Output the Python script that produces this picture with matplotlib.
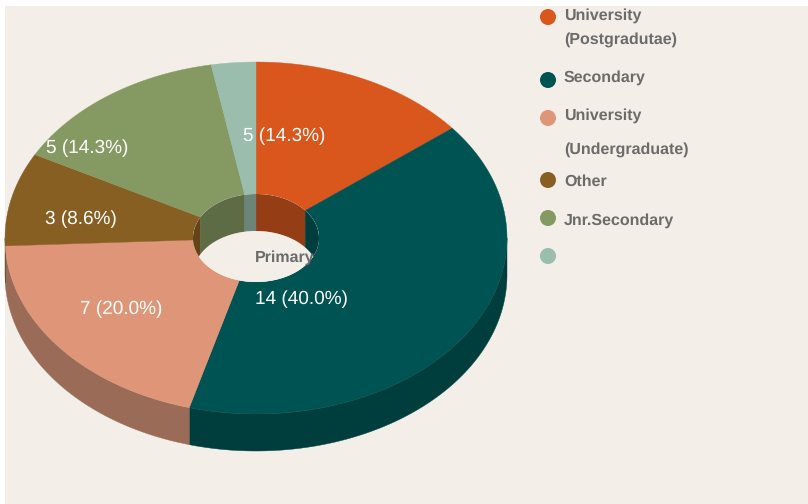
"""Donut chart with a fake 3D rim, drawn in pixel coordinates."""

import matplotlib

matplotlib.use("Agg")
import matplotlib.pyplot as plt
import numpy as np
from matplotlib.patches import Circle, Ellipse, Polygon, Rectangle

plt.rcParams["font.family"] = ["Liberation Sans", "DejaVu Sans"]
plt.rcParams["text.hinting"] = "no_hinting"
plt.rcParams["text.hinting_factor"] = 1

categories = [
    "University\n(Postgradutae)",
    "Secondary",
    "University\n(Undergraduate)",
    "Other",
    "Jnr.Secondary",
    "Primary",
]
values = [5, 14, 7, 3, 5, 1]
colours = ["#D9561D", "#005353", "#DF9678", "#885F22", "#859A62", "#9ABDAD"]
rim_colours = ["#953D14", "#003E3E", "#9A6C57", "#624416", "#5E6C45", "#6C8479"]

BG = "#F3EEE8"
CX, CY = 256, 238
RX, RY = 251, 176
HOLE_RX, HOLE_RY = 63, 44
DEPTH = 37

label_pos = [(284, 136), (301, 299), (121, 309), (81, 219), (87, 148)]
legend_y = [17, 80, 118, 180, 218, 256]


def arc(a0, a1, rx, ry, dy=0.0):
    """Points along an ellipse; angles are clockwise from 12 o'clock."""
    t = np.linspace(a0, a1, max(int(abs(a1 - a0) * 60), 2))
    return np.column_stack([CX + rx * np.sin(t), CY + dy - ry * np.cos(t)])


fig = plt.figure(figsize=(8.08, 5.04), dpi=100, facecolor="white")
ax = fig.add_axes([0, 0, 1, 1])
ax.set_xlim(0, 808)
ax.set_ylim(504, 0)
ax.axis("off")
ax.add_patch(Rectangle((5, 6), 803, 498, facecolor=BG, edgecolor="none", zorder=0))

edges = np.cumsum([0] + values) / sum(values) * 2 * np.pi

# outer rim, only the front half (90..270 degrees) is visible
for i in range(len(values)):
    a0, a1 = max(edges[i], np.pi / 2), min(edges[i + 1], 3 * np.pi / 2)
    if a1 <= a0:
        continue
    pts = np.vstack([arc(a0, a1, RX, RY), arc(a1, a0, RX, RY, DEPTH)])
    ax.add_patch(Polygon(pts, facecolor=rim_colours[i], edgecolor=rim_colours[i], lw=0.3, zorder=1))

# top face
for i in range(len(values)):
    a0, a1 = edges[i], edges[i + 1]
    pts = np.vstack([arc(a0, a1, RX, RY), arc(a1, a0, HOLE_RX, HOLE_RY)])
    ax.add_patch(Polygon(pts, facecolor=colours[i], edgecolor=colours[i], lw=0.3, zorder=2))

# hole: inner wall of the far side, then the floor showing the background
hole = Ellipse((CX, CY), 2 * HOLE_RX, 2 * HOLE_RY, facecolor=BG, edgecolor="none", zorder=3)
ax.add_patch(hole)
for i in range(len(values)):
    for lo, hi in [(0, np.pi / 2), (3 * np.pi / 2, 2 * np.pi)]:
        a0, a1 = max(edges[i], lo), min(edges[i + 1], hi)
        if a1 <= a0:
            continue
        pts = np.vstack([arc(a0, a1, HOLE_RX, HOLE_RY), arc(a1, a0, HOLE_RX, HOLE_RY, DEPTH)])
        wall = Polygon(pts, facecolor=rim_colours[i], edgecolor=rim_colours[i], lw=0.3, zorder=4)
        ax.add_patch(wall)
        wall.set_clip_path(hole)
floor = Ellipse((CX, CY + DEPTH), 2 * HOLE_RX, 2 * HOLE_RY, facecolor=BG, edgecolor="none", zorder=5)
ax.add_patch(floor)
floor.set_clip_path(hole)

# the last slice is too thin and has no value label
total = sum(values)
for v, (x, y) in zip(values, label_pos):
    ax.text(x, y, f"{v} ({v / total * 100:.1f}%)", color="white", fontsize=13.7,
            ha="center", va="center", zorder=6)

# legend, the Primary entry sits in the hole instead of next to its marker
for i, y in enumerate(legend_y):
    ax.add_patch(Circle((548, y), 8, facecolor=colours[i], edgecolor="none", zorder=6))

text_kw = dict(color="#6B6B6B", fontsize=11.75, fontweight="bold", va="center", zorder=7)
ax.text(564, 16, categories[0].split("\n")[0], **text_kw)
ax.text(564, 40, categories[0].split("\n")[1], **text_kw)
ax.text(564, 78, categories[1], **text_kw)
ax.text(564, 116, categories[2].split("\n")[0], **text_kw)
ax.text(564, 150, categories[2].split("\n")[1], **text_kw)
ax.text(564, 182, categories[3], **text_kw)
ax.text(564, 221, categories[4], **text_kw)
ax.text(255, 258, categories[5], **text_kw)

fig.savefig("out.png", dpi=100)
plt.close(fig)
